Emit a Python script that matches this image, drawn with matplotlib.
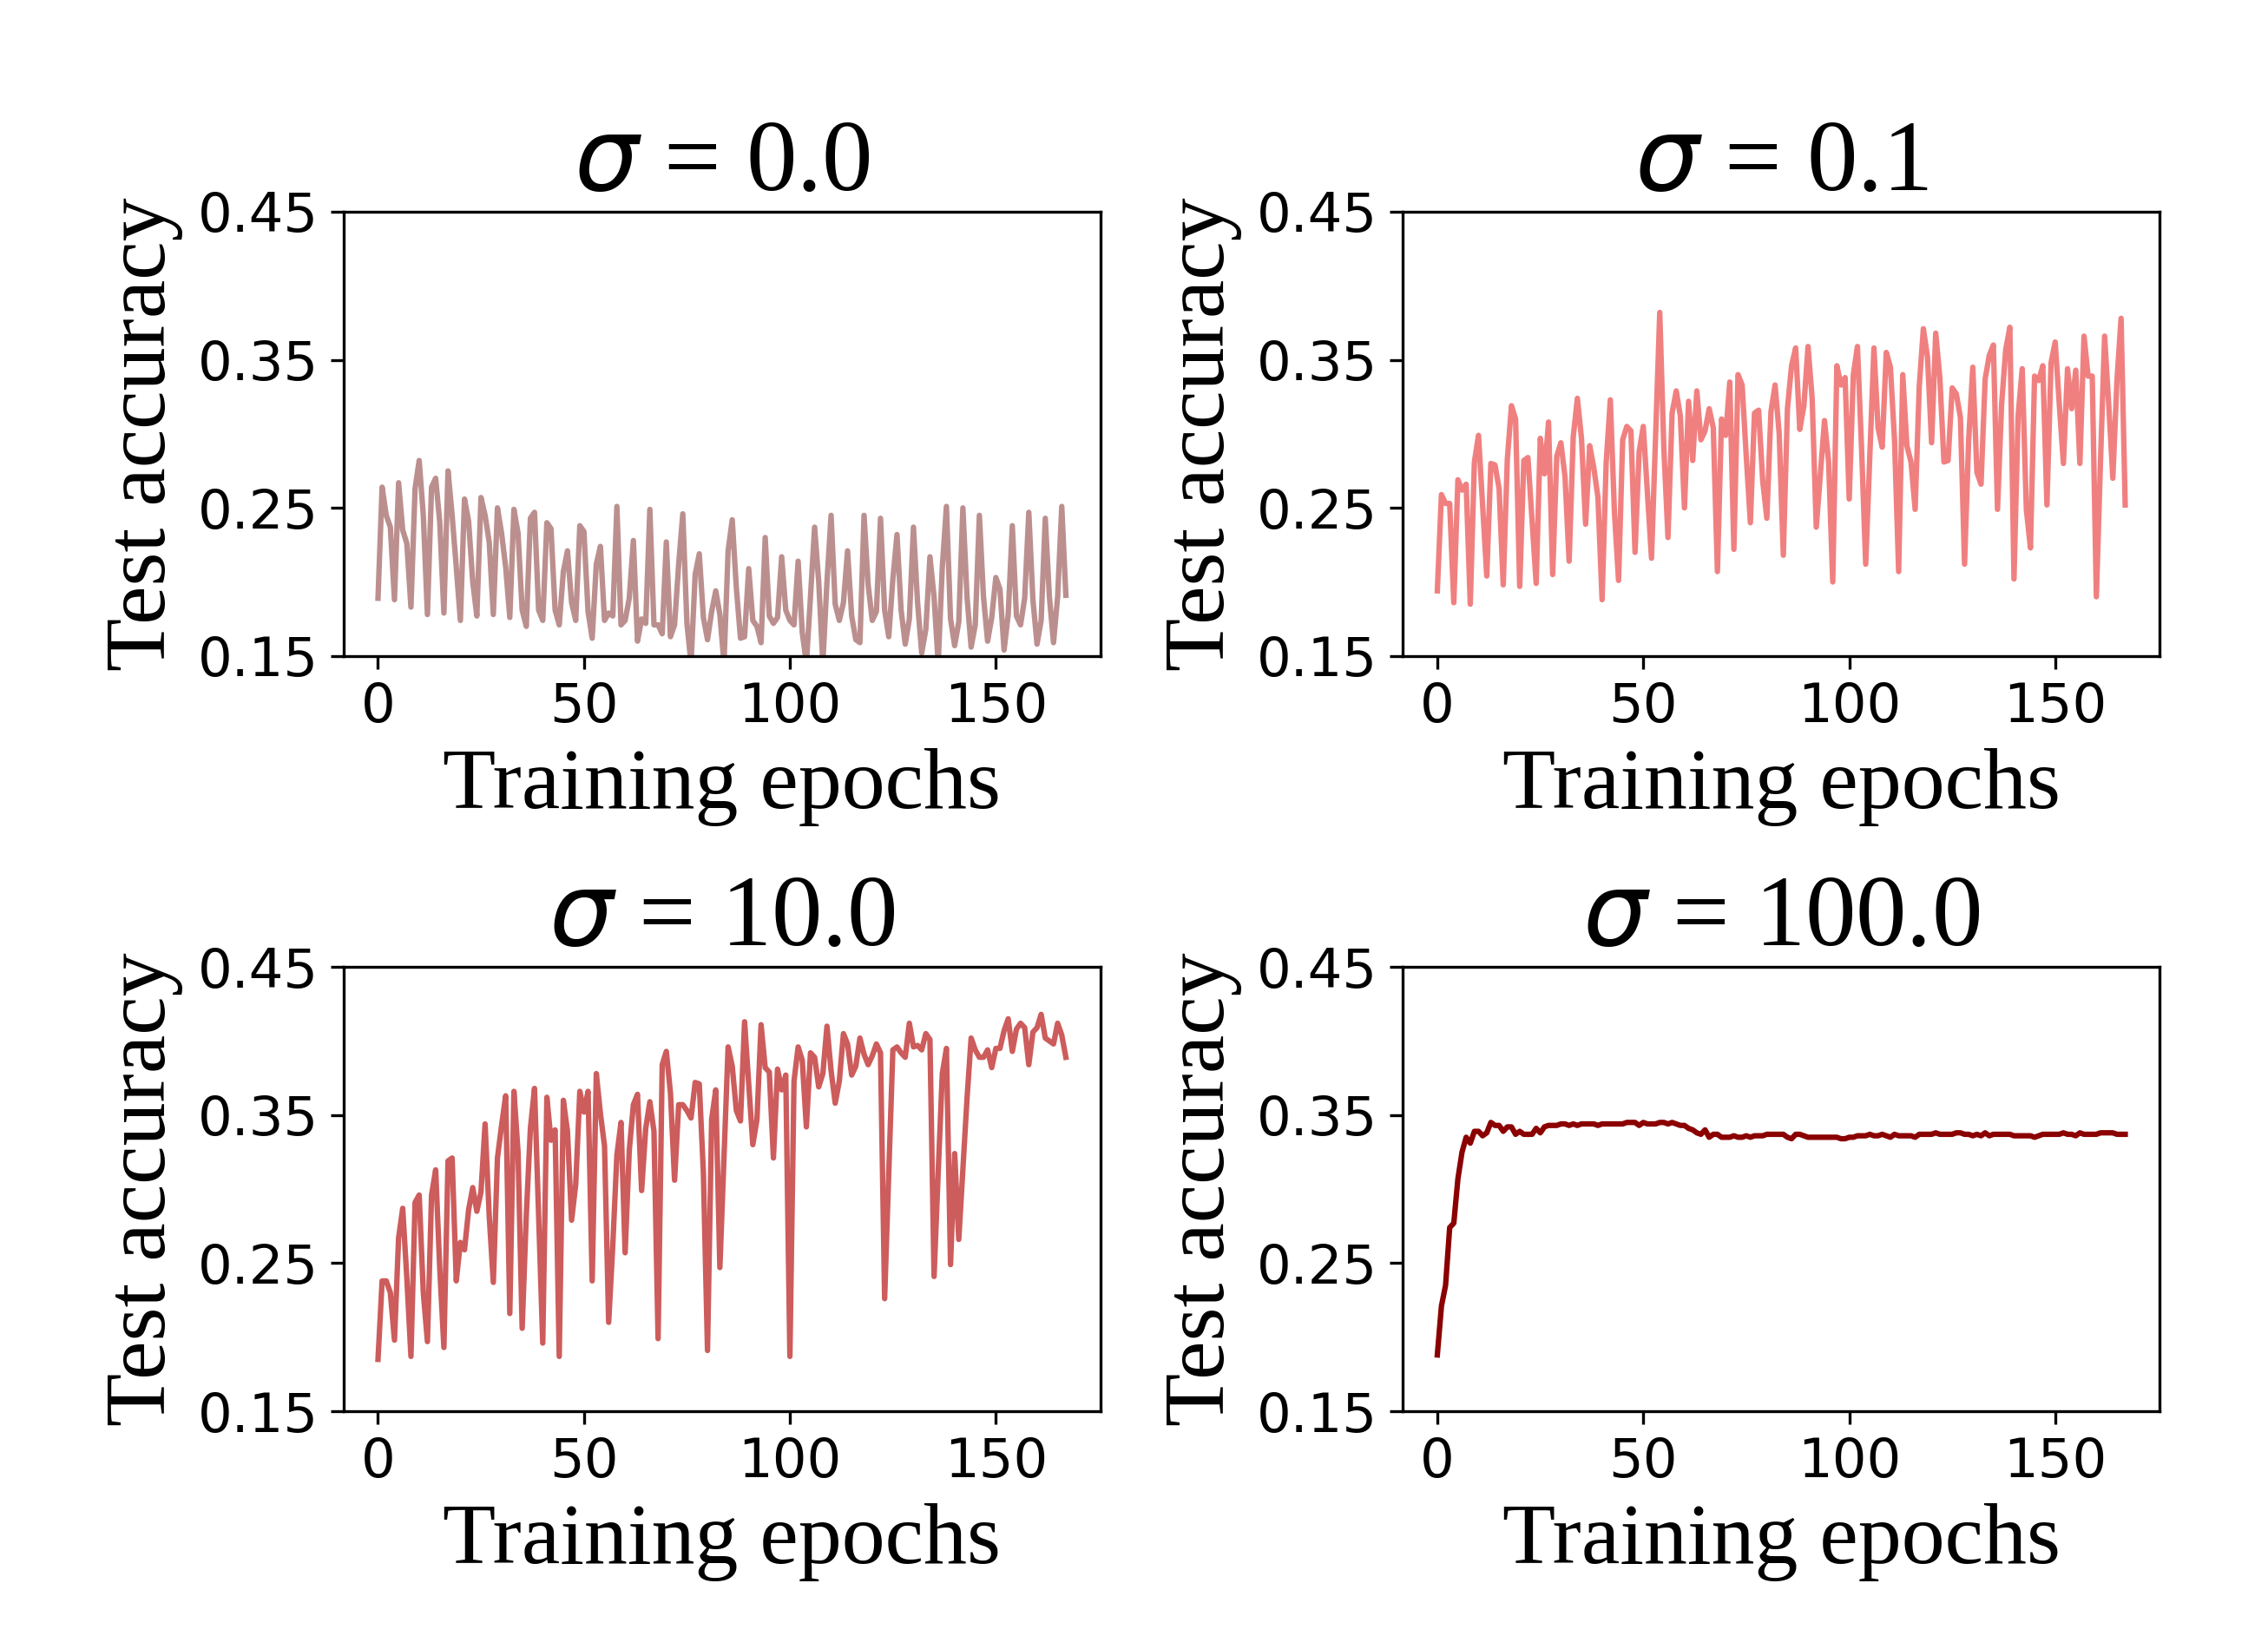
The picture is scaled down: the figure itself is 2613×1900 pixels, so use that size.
import numpy as np
import matplotlib
matplotlib.use("Agg")
import matplotlib.pyplot as plt

# Test accuracy per training epoch (0..167) for each noise level sigma
acc_sigma_0 = [
    0.189, 0.264, 0.245, 0.237, 0.188, 0.267, 0.235, 0.226, 0.183, 0.263,
    0.282, 0.245, 0.178, 0.264, 0.270, 0.240, 0.179, 0.275, 0.245, 0.210,
    0.174, 0.256, 0.241, 0.200, 0.177, 0.257, 0.245, 0.227, 0.178, 0.250,
    0.233, 0.210, 0.176, 0.249, 0.233, 0.181, 0.170, 0.243, 0.247, 0.181,
    0.174, 0.240, 0.236, 0.181, 0.171, 0.207, 0.221, 0.186, 0.174, 0.238,
    0.234, 0.180, 0.162, 0.212, 0.224, 0.174, 0.179, 0.177, 0.251, 0.171,
    0.174, 0.189, 0.228, 0.160, 0.175, 0.172, 0.249, 0.171, 0.171, 0.165,
    0.227, 0.163, 0.171, 0.212, 0.246, 0.172, 0.145, 0.205, 0.219, 0.176,
    0.161, 0.180, 0.194, 0.178, 0.145, 0.221, 0.242, 0.196, 0.162, 0.163,
    0.209, 0.174, 0.170, 0.159, 0.230, 0.177, 0.172, 0.176, 0.217, 0.181,
    0.174, 0.171, 0.214, 0.166, 0.145, 0.190, 0.237, 0.200, 0.145, 0.200,
    0.245, 0.185, 0.174, 0.186, 0.221, 0.177, 0.161, 0.159, 0.245, 0.198,
    0.174, 0.180, 0.243, 0.181, 0.163, 0.202, 0.232, 0.181, 0.158, 0.175,
    0.237, 0.186, 0.152, 0.168, 0.217, 0.190, 0.145, 0.210, 0.251, 0.175,
    0.157, 0.173, 0.250, 0.190, 0.156, 0.171, 0.245, 0.190, 0.160, 0.176,
    0.203, 0.195, 0.154, 0.178, 0.238, 0.177, 0.171, 0.189, 0.247, 0.188,
    0.158, 0.174, 0.243, 0.190, 0.159, 0.190, 0.251, 0.191,
]

acc_sigma_01 = [
    0.194, 0.259, 0.253, 0.253, 0.186, 0.269, 0.262, 0.266, 0.185, 0.281,
    0.299, 0.251, 0.204, 0.280, 0.279, 0.263, 0.198, 0.283, 0.319, 0.310,
    0.197, 0.282, 0.284, 0.241, 0.199, 0.297, 0.273, 0.308, 0.205, 0.285,
    0.294, 0.271, 0.214, 0.298, 0.324, 0.297, 0.239, 0.292, 0.277, 0.257,
    0.188, 0.281, 0.323, 0.247, 0.201, 0.296, 0.305, 0.302, 0.220, 0.288,
    0.305, 0.261, 0.216, 0.299, 0.382, 0.290, 0.230, 0.314, 0.329, 0.312,
    0.250, 0.322, 0.282, 0.329, 0.296, 0.302, 0.317, 0.304, 0.207, 0.310,
    0.299, 0.335, 0.222, 0.340, 0.333, 0.285, 0.240, 0.314, 0.316, 0.268,
    0.243, 0.315, 0.333, 0.300, 0.218, 0.317, 0.346, 0.358, 0.303, 0.319,
    0.359, 0.324, 0.237, 0.273, 0.309, 0.281, 0.200, 0.346, 0.333, 0.338,
    0.256, 0.340, 0.359, 0.290, 0.212, 0.285, 0.358, 0.304, 0.291, 0.355,
    0.345, 0.296, 0.207, 0.340, 0.292, 0.281, 0.249, 0.332, 0.371, 0.352,
    0.294, 0.368, 0.338, 0.281, 0.282, 0.331, 0.327, 0.311, 0.212, 0.296,
    0.345, 0.274, 0.266, 0.337, 0.353, 0.360, 0.249, 0.320, 0.357, 0.372,
    0.202, 0.312, 0.344, 0.249, 0.223, 0.339, 0.336, 0.346, 0.252, 0.348,
    0.362, 0.320, 0.280, 0.344, 0.317, 0.343, 0.280, 0.366, 0.339, 0.339,
    0.190, 0.281, 0.366, 0.320, 0.270, 0.336, 0.378, 0.252,
]

acc_sigma_10 = [
    0.185, 0.238, 0.238, 0.230, 0.198, 0.267, 0.287, 0.240, 0.187, 0.291,
    0.296, 0.230, 0.197, 0.296, 0.313, 0.246, 0.193, 0.319, 0.321, 0.238,
    0.264, 0.259, 0.286, 0.301, 0.285, 0.298, 0.344, 0.282, 0.237, 0.321,
    0.343, 0.363, 0.216, 0.366, 0.325, 0.206, 0.282, 0.341, 0.368, 0.282,
    0.196, 0.362, 0.333, 0.340, 0.187, 0.360, 0.339, 0.279, 0.303, 0.366,
    0.352, 0.366, 0.238, 0.378, 0.351, 0.329, 0.210, 0.262, 0.323, 0.345,
    0.257, 0.326, 0.357, 0.364, 0.299, 0.341, 0.359, 0.339, 0.199, 0.384,
    0.393, 0.365, 0.306, 0.357, 0.357, 0.353, 0.348, 0.372, 0.371, 0.311,
    0.191, 0.347, 0.367, 0.247, 0.321, 0.396, 0.383, 0.353, 0.346, 0.413,
    0.371, 0.330, 0.347, 0.411, 0.382, 0.379, 0.321, 0.381, 0.367, 0.377,
    0.187, 0.373, 0.396, 0.387, 0.342, 0.392, 0.389, 0.369, 0.378, 0.410,
    0.380, 0.358, 0.373, 0.405, 0.398, 0.377, 0.383, 0.402, 0.391, 0.384,
    0.390, 0.398, 0.392, 0.226, 0.311, 0.394, 0.396, 0.392, 0.389, 0.412,
    0.396, 0.397, 0.394, 0.405, 0.401, 0.241, 0.311, 0.378, 0.395, 0.249,
    0.324, 0.266, 0.313, 0.361, 0.402, 0.394, 0.389, 0.389, 0.394, 0.382,
    0.395, 0.395, 0.407, 0.415, 0.393, 0.408, 0.412, 0.409, 0.384, 0.406,
    0.409, 0.418, 0.402, 0.400, 0.398, 0.412, 0.404, 0.389,
]

acc_sigma_100 = [
    0.188, 0.221, 0.235, 0.274, 0.277, 0.307, 0.325, 0.335, 0.331, 0.339,
    0.339, 0.336, 0.338, 0.345, 0.343, 0.343, 0.339, 0.342, 0.342, 0.337,
    0.339, 0.337, 0.337, 0.337, 0.341, 0.338, 0.342, 0.343, 0.343, 0.343,
    0.344, 0.344, 0.343, 0.344, 0.343, 0.344, 0.344, 0.344, 0.344, 0.343,
    0.344, 0.344, 0.344, 0.344, 0.344, 0.344, 0.345, 0.345, 0.345, 0.343,
    0.345, 0.344, 0.344, 0.344, 0.345, 0.345, 0.344, 0.345, 0.344, 0.343,
    0.343, 0.341, 0.340, 0.338, 0.337, 0.340, 0.335, 0.337, 0.337, 0.335,
    0.335, 0.335, 0.336, 0.335, 0.335, 0.336, 0.335, 0.336, 0.336, 0.336,
    0.337, 0.337, 0.337, 0.337, 0.337, 0.335, 0.334, 0.337, 0.337, 0.336,
    0.335, 0.335, 0.335, 0.335, 0.335, 0.335, 0.335, 0.335, 0.334, 0.334,
    0.335, 0.335, 0.336, 0.336, 0.336, 0.337, 0.336, 0.336, 0.337, 0.336,
    0.335, 0.337, 0.336, 0.336, 0.336, 0.336, 0.335, 0.337, 0.337, 0.337,
    0.337, 0.338, 0.337, 0.337, 0.337, 0.337, 0.338, 0.338, 0.337, 0.337,
    0.336, 0.337, 0.336, 0.338, 0.336, 0.337, 0.337, 0.337, 0.337, 0.337,
    0.336, 0.336, 0.336, 0.336, 0.336, 0.335, 0.336, 0.337, 0.337, 0.337,
    0.337, 0.337, 0.338, 0.337, 0.337, 0.336, 0.338, 0.337, 0.337, 0.337,
    0.337, 0.338, 0.338, 0.338, 0.338, 0.337, 0.337, 0.337,
]

sigma_labels = ["0.0", "0.1", "10.0", "100.0"]
line_colors = ["#BC8F8F", "#F08080", "#CD5C5C", "#8B0000"]
series = [acc_sigma_0, acc_sigma_01, acc_sigma_10, acc_sigma_100]
y_ticks = [0.15, 0.25, 0.35, 0.45]

# 2x2 grid of subplots, one per sigma
fig, axes = plt.subplots(2, 2, figsize=(2613 / 300, 1900 / 300), dpi=300)
fig.subplots_adjust(left=0.1515, right=0.9522, top=0.8716, bottom=0.1442,
                    wspace=0.40, hspace=0.70)

for ax, acc, label, color in zip(axes.flat, series, sigma_labels, line_colors):
    epochs = np.arange(len(acc))
    ax.plot(epochs, acc, color=color, linewidth=1.5)
    ax.set_ylim(0.15, 0.45)
    ax.set_yticks(y_ticks)
    ax.set_xticks([0, 50, 100, 150])
    ax.tick_params(labelsize=15)
    ax.set_title(r"$\sigma$ = " + label, fontsize=28, fontfamily="Liberation Serif")
    ax.set_xlabel("Training epochs", fontsize=24, fontfamily="Liberation Serif")
    ax.set_ylabel("Test accuracy", fontsize=24, fontfamily="Liberation Serif")

plt.savefig("out.png", dpi=300)
